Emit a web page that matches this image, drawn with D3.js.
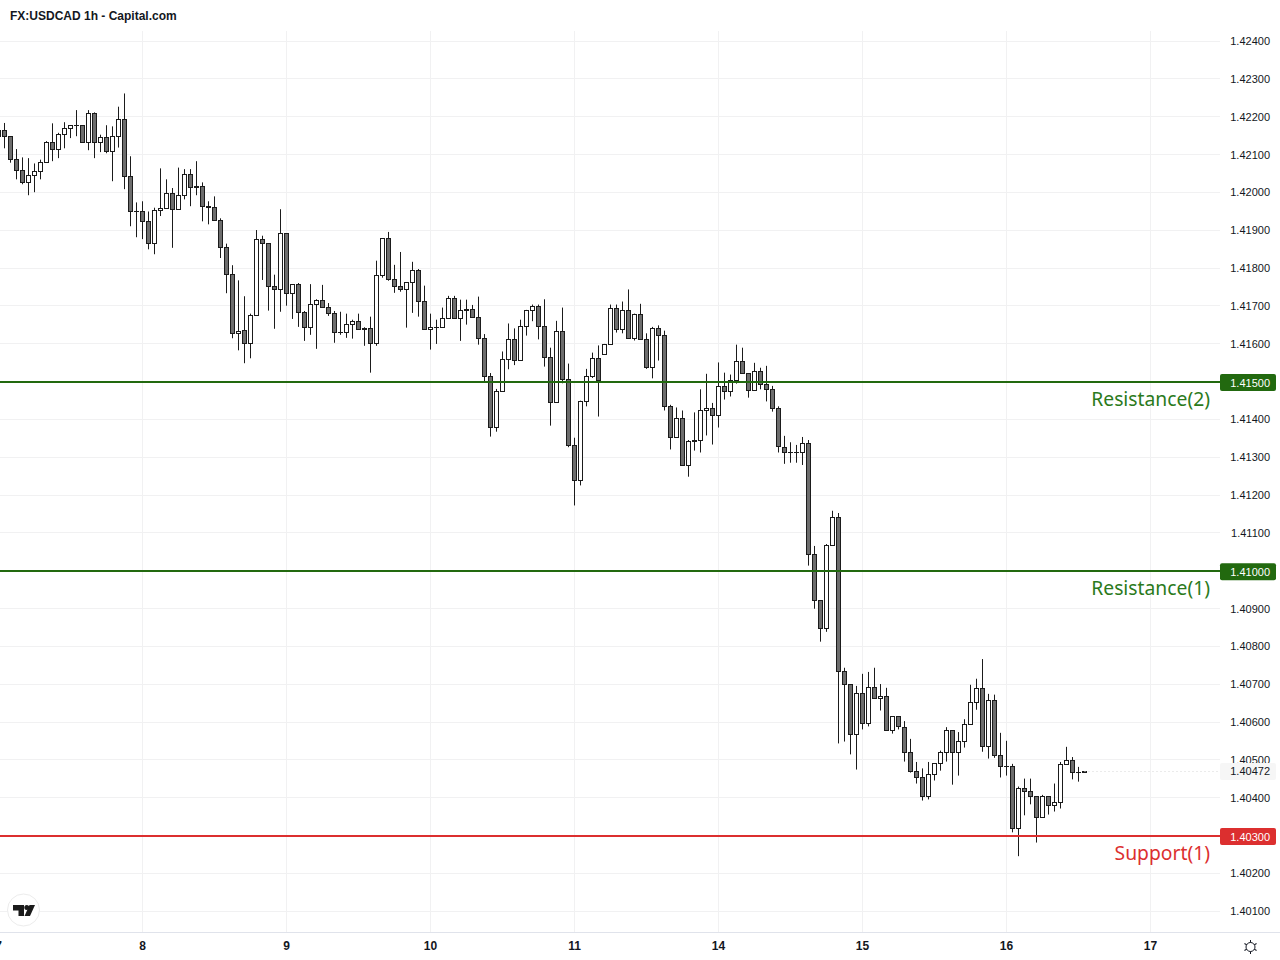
<!DOCTYPE html>
<html><head><meta charset="utf-8">
<script src="https://cdn.jsdelivr.net/npm/d3@7/dist/d3.min.js"></script>
<style>html,body{margin:0;padding:0;background:#fff;overflow:hidden}svg{display:block}</style>
</head><body><svg id="c" width="1280" height="960"></svg>
<script>
const title = "FX:USDCAD 1h - Capital.com";
const opens = [1.42167,1.42166,1.42150,1.42089,1.42060,1.42029,1.42047,1.42059,1.42081,1.42134,
1.42116,1.42155,1.42171,1.42179,1.42179,1.42134,1.42211,1.42134,1.42147,1.42110,
1.42150,1.42195,1.42044,1.41952,1.41952,1.41925,1.41867,1.41955,1.41960,1.42000,
1.41957,1.41994,1.42050,1.42017,1.42017,1.41965,1.41962,1.41928,1.41857,1.41785,
1.41629,1.41637,1.41603,1.41676,1.41879,1.41868,1.41755,1.41747,1.41895,1.41736,
1.41760,1.41686,1.41646,1.41707,1.41718,1.41699,1.41683,1.41633,1.41631,1.41652,
1.41660,1.41639,1.41644,1.41604,1.41784,1.41881,1.41773,1.41755,1.41747,1.41765,
1.41797,1.41715,1.41639,1.41646,1.41646,1.41670,1.41723,1.41668,1.41694,1.41694,
1.41673,1.41615,1.41517,1.41380,1.41475,1.41560,1.41613,1.41557,1.41647,1.41690,
1.41700,1.41647,1.41565,1.41446,1.41634,1.41507,1.41333,1.41240,1.41449,1.41515,
1.41563,1.41573,1.41600,1.41695,1.41639,1.41690,1.41616,1.41679,1.41613,1.41539,
1.41642,1.41624,1.41436,1.41354,1.41404,1.41280,1.41343,1.41348,1.41425,1.41430,
1.41412,1.41489,1.41475,1.41505,1.41555,1.41523,1.41478,1.41528,1.41494,1.41481,
1.41430,1.41329,1.41316,1.41315,1.41315,1.41340,1.41046,1.40925,1.40851,1.41068,
1.41142,1.40735,1.40701,1.40569,1.40677,1.40600,1.40693,1.40664,1.40669,1.40579,
1.40616,1.40589,1.40521,1.40471,1.40455,1.40407,1.40463,1.40492,1.40523,1.40581,
1.40523,1.40550,1.40595,1.40655,1.40692,1.40537,1.40660,1.40515,1.40486,1.40486,
1.40320,1.40426,1.40418,1.40407,1.40349,1.40407,1.40381,1.40389,1.40489,1.40502,
1.40468,1.40470];
const closes = [1.42151,1.42149,1.42089,1.42060,1.42029,1.42047,1.42059,1.42081,1.42134,1.42116,
1.42155,1.42171,1.42178,1.42178,1.42134,1.42211,1.42134,1.42147,1.42110,1.42150,
1.42195,1.42044,1.41952,1.41951,1.41925,1.41867,1.41955,1.41960,1.42000,1.41957,
1.41994,1.42050,1.42015,1.42015,1.41965,1.41962,1.41928,1.41857,1.41785,1.41629,
1.41636,1.41603,1.41677,1.41879,1.41868,1.41755,1.41747,1.41895,1.41736,1.41760,
1.41686,1.41646,1.41707,1.41718,1.41699,1.41683,1.41633,1.41631,1.41652,1.41660,
1.41639,1.41644,1.41604,1.41784,1.41881,1.41773,1.41755,1.41747,1.41765,1.41797,
1.41715,1.41639,1.41646,1.41646,1.41670,1.41723,1.41668,1.41691,1.41691,1.41673,
1.41615,1.41517,1.41380,1.41475,1.41560,1.41613,1.41557,1.41647,1.41690,1.41700,
1.41647,1.41565,1.41446,1.41634,1.41507,1.41333,1.41240,1.41449,1.41515,1.41563,
1.41505,1.41600,1.41695,1.41639,1.41690,1.41616,1.41679,1.41613,1.41539,1.41642,
1.41624,1.41436,1.41354,1.41404,1.41280,1.41343,1.41348,1.41425,1.41430,1.41412,
1.41489,1.41475,1.41505,1.41555,1.41523,1.41478,1.41528,1.41494,1.41481,1.41430,
1.41330,1.41315,1.41315,1.41316,1.41340,1.41046,1.40925,1.40851,1.41068,1.41142,
1.40735,1.40701,1.40569,1.40677,1.40600,1.40693,1.40664,1.40669,1.40579,1.40616,
1.40590,1.40521,1.40471,1.40455,1.40407,1.40463,1.40492,1.40523,1.40581,1.40523,
1.40550,1.40595,1.40655,1.40692,1.40537,1.40660,1.40515,1.40484,1.40484,1.40320,
1.40426,1.40418,1.40407,1.40349,1.40407,1.40382,1.40389,1.40489,1.40502,1.40468,
1.40469,1.40472];
const highs = [1.42180,1.42186,1.42151,1.42117,1.42095,1.42093,1.42079,1.42089,1.42138,1.42185,
1.42160,1.42188,1.42179,1.42220,1.42179,1.42220,1.42214,1.42155,1.42180,1.42177,
1.42229,1.42264,1.42098,1.41976,1.41979,1.41952,1.41962,1.42066,1.42037,1.42014,
1.42068,1.42064,1.42064,1.42085,1.42029,1.41979,1.41992,1.41934,1.41867,1.41810,
1.41770,1.41728,1.41682,1.41903,1.41888,1.41868,1.41785,1.41958,1.41895,1.41760,
1.41763,1.41689,1.41760,1.41720,1.41758,1.41710,1.41689,1.41687,1.41682,1.41666,
1.41682,1.41646,1.41674,1.41822,1.41881,1.41898,1.41811,1.41845,1.41765,1.41819,
1.41800,1.41756,1.41682,1.41666,1.41698,1.41729,1.41729,1.41719,1.41719,1.41705,
1.41727,1.41628,1.41525,1.41483,1.41582,1.41656,1.41643,1.41666,1.41692,1.41706,
1.41706,1.41720,1.41592,1.41663,1.41698,1.41550,1.41354,1.41452,1.41536,1.41579,
1.41598,1.41602,1.41706,1.41706,1.41714,1.41746,1.41682,1.41708,1.41630,1.41647,
1.41651,1.41637,1.41441,1.41434,1.41426,1.41348,1.41421,1.41482,1.41523,1.41446,
1.41553,1.41526,1.41521,1.41600,1.41592,1.41523,1.41552,1.41539,1.41544,1.41491,
1.41437,1.41359,1.41342,1.41335,1.41356,1.41348,1.41068,1.40925,1.41073,1.41161,
1.41155,1.40746,1.40701,1.40698,1.40730,1.40735,1.40746,1.40703,1.40693,1.40616,
1.40616,1.40605,1.40558,1.40497,1.40480,1.40497,1.40492,1.40527,1.40589,1.40581,
1.40576,1.40610,1.40701,1.40717,1.40769,1.40677,1.40675,1.40574,1.40553,1.40492,
1.40432,1.40453,1.40453,1.40407,1.40410,1.40407,1.40440,1.40497,1.40537,1.40510,
1.40484,1.40473];
const lows = [1.42132,1.42119,1.42081,1.42037,1.42024,1.41995,1.42003,1.42037,1.42081,1.42085,
1.42093,1.42119,1.42146,1.42151,1.42134,1.42114,1.42093,1.42109,1.42106,1.42032,
1.42121,1.42011,1.41913,1.41884,1.41879,1.41852,1.41839,1.41940,1.41960,1.41856,
1.41957,1.41984,1.41966,1.41995,1.41926,1.41918,1.41928,1.41829,1.41736,1.41617,
1.41585,1.41551,1.41564,1.41676,1.41771,1.41690,1.41642,1.41687,1.41703,1.41668,
1.41647,1.41610,1.41626,1.41589,1.41699,1.41676,1.41605,1.41626,1.41618,1.41616,
1.41639,1.41597,1.41526,1.41597,1.41777,1.41769,1.41737,1.41740,1.41645,1.41684,
1.41674,1.41639,1.41587,1.41602,1.41646,1.41670,1.41668,1.41610,1.41653,1.41673,
1.41600,1.41500,1.41357,1.41370,1.41475,1.41535,1.41546,1.41557,1.41624,1.41662,
1.41614,1.41542,1.41386,1.41446,1.41498,1.41329,1.41175,1.41228,1.41437,1.41512,
1.41410,1.41573,1.41600,1.41632,1.41630,1.41616,1.41611,1.41613,1.41536,1.41511,
1.41558,1.41426,1.41323,1.41354,1.41280,1.41251,1.41320,1.41315,1.41360,1.41336,
1.41381,1.41455,1.41463,1.41497,1.41523,1.41460,1.41478,1.41482,1.41450,1.41423,
1.41315,1.41285,1.41288,1.41288,1.41282,1.41016,1.40902,1.40815,1.40841,1.41068,
1.40546,1.40551,1.40517,1.40477,1.40583,1.40591,1.40664,1.40633,1.40579,1.40572,
1.40583,1.40498,1.40469,1.40440,1.40395,1.40398,1.40448,1.40474,1.40498,1.40437,
1.40461,1.40535,1.40595,1.40635,1.40524,1.40506,1.40508,1.40456,1.40461,1.40311,
1.40248,1.40356,1.40385,1.40284,1.40349,1.40358,1.40366,1.40374,1.40489,1.40451,
1.40445,1.40468];
const priceTicks = [1.424,1.423,1.422,1.421,1.42,1.419,1.418,1.417,1.416,1.414,1.413,1.412,1.411,1.409,1.408,1.407,1.406,1.405,1.404,1.402,1.401];
const levelPrices = [1.415,1.41,1.403];
const levelNames = ["Resistance(2)","Resistance(1)","Support(1)"];
const levelColors = ["#22690f","#22690f","#dc2f2f"];
const dayLabels = ["7","8","9","10","11","14","15","16","17"];
const dayBars = [0,24,48,72,96,120,144,168,192];
const lastPrice = 1.40472;

const svg = d3.select("#c");
const plotRight = 1220, plotBottom = 932, plotTop = 31;
const x = d3.scaleLinear().domain([0,1]).range([-1.5,4.5]);
const y = d3.scaleLinear().domain([1.415,1.403]).range([382.5,836.5]);
const snap = v => Math.round(v - 0.5) + 0.5;
const f = d3.format(".5f");
const axisFont = "'Liberation Sans',Arial,sans-serif";

// grid
const grid = svg.append("g").attr("stroke","#f1f1f2").attr("stroke-width",1);
grid.selectAll(".h").data(d3.range(1.401,1.4245,0.001)).join("line")
  .attr("x1",0).attr("x2",plotRight).attr("y1",d=>Math.floor(y(d))+0.5-1).attr("y2",d=>Math.floor(y(d))+0.5-1);
grid.selectAll(".v").data(dayBars).join("line")
  .attr("x1",d=>x(d)).attr("x2",d=>x(d)).attr("y1",plotTop).attr("y2",plotBottom);

// candles
const bars = opens.map((o,i)=>({i,o,c:closes[i],h:highs[i],l:lows[i]}));
const ink = "#1b1b1b";
const g = svg.append("g");
g.selectAll(".w").data(bars).join("line")
  .attr("x1",d=>x(d.i)).attr("x2",d=>x(d.i))
  .attr("y1",d=>y(d.h)).attr("y2",d=>y(d.l))
  .attr("stroke",ink).attr("stroke-width",1);
g.selectAll(".b").data(bars).join("rect")
  .attr("x",d=>x(d.i)-2).attr("width",4)
  .attr("y",d=>snap(y(Math.max(d.o,d.c))))
  .attr("height",d=>Math.max(snap(y(Math.min(d.o,d.c)))-snap(y(Math.max(d.o,d.c))),0.01))
  .attr("fill",d=>d.c>=d.o?"#ffffff":"#6d6d6d")
  .attr("stroke",ink).attr("stroke-width",1);

// last price dotted line
svg.append("line").attr("x1",x(opens.length-1)).attr("x2",plotRight)
  .attr("y1",snap(y(lastPrice))).attr("y2",snap(y(lastPrice)))
  .attr("stroke","#d6d6d6").attr("stroke-width",1).attr("stroke-dasharray","1 3");

// level lines
svg.append("g").selectAll("line").data(levelPrices).join("line")
  .attr("x1",0).attr("x2",plotRight).attr("y1",d=>Math.floor(y(d))).attr("y2",d=>Math.floor(y(d)))
  .attr("stroke",(d,i)=>levelColors[i]).attr("stroke-width",2);

// level names
svg.append("g").selectAll("text").data(levelPrices).join("text")
  .attr("x",1210).attr("y",d=>y(d)+23).attr("text-anchor","end")
  .attr("font-family","'Noto Sans',sans-serif").attr("font-size",19.3)
  .attr("fill",(d,i)=>levelColors[i]==="#22690f"?"#2b7a1b":"#dc2f2f")
  .text((d,i)=>levelNames[i]);

// bottom border
svg.append("line").attr("x1",0).attr("x2",1280).attr("y1",plotBottom+0.5).attr("y2",plotBottom+0.5)
  .attr("stroke","#e0e3eb").attr("stroke-width",1);

// price axis
const pa = svg.append("g").attr("font-family",axisFont).attr("font-size",11).attr("fill","#131722");
pa.selectAll("text").data(priceTicks).join("text")
  .attr("x",1270).attr("y",d=>y(d)+3).attr("text-anchor","end").text(d=>f(d));

// last price tag
svg.append("rect").attr("x",1220).attr("width",56).attr("y",y(lastPrice)-8.5).attr("height",17)
  .attr("rx",2).attr("fill","#f6f6f6");
svg.append("text").attr("x",1270).attr("y",y(lastPrice)+4).attr("text-anchor","end")
  .attr("font-family",axisFont).attr("font-size",11).attr("fill","#131722").text(f(lastPrice));

// level tags
const tags = svg.append("g");
tags.selectAll("rect").data(levelPrices).join("rect")
  .attr("x",1220).attr("width",56).attr("y",d=>y(d)-8.5).attr("height",17).attr("rx",2)
  .attr("fill",(d,i)=>levelColors[i]);
tags.selectAll("text").data(levelPrices).join("text")
  .attr("x",1270).attr("y",d=>y(d)+4).attr("text-anchor","end")
  .attr("font-family",axisFont).attr("font-size",11).attr("fill","#ffffff").text(d=>f(d));

// time axis
svg.append("g").attr("font-family",axisFont).attr("font-size",12).attr("font-weight","bold").attr("fill","#131722")
  .selectAll("text").data(dayBars).join("text")
  .attr("x",d=>x(d)).attr("y",950).attr("text-anchor","middle").text((d,i)=>dayLabels[i]);

// title
svg.append("text").attr("x",10).attr("y",20).attr("font-family",axisFont).attr("font-size",12).attr("font-weight","bold")
  .attr("fill","#131722").text(title);

// TradingView badge
const logo = svg.append("g");
logo.append("circle").attr("cx",23.5).attr("cy",910).attr("r",16).attr("fill","#fff").attr("stroke","#ececec").attr("stroke-width",1);
logo.append("path").attr("fill","#1b1b1b").attr("d","M13 905H24V916H18.5V910.5H13Z");
logo.append("circle").attr("cx",26.8).attr("cy",907.6).attr("r",2.5).attr("fill","#1b1b1b");
logo.append("path").attr("fill","#1b1b1b").attr("d","M29.5 905H35L30 916H24.5Z");

// settings icon
const sun = svg.append("g").attr("transform","translate(1250.5,947)").attr("stroke","#131722").attr("fill","none").attr("stroke-width",1);
sun.append("circle").attr("r",4.5);
sun.selectAll("line").data(d3.range(0,360,60)).join("line")
  .attr("x1",0).attr("x2",0).attr("y1",-4.5).attr("y2",-7)
  .attr("transform",d=>`rotate(${d})`);
</script></body></html>
